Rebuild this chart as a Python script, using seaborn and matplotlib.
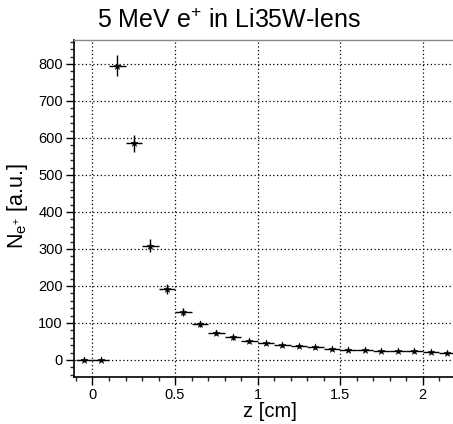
import numpy as np
import pandas as pd
import seaborn as sns
import matplotlib
matplotlib.use("Agg")
import matplotlib.pyplot as plt
from matplotlib.ticker import MultipleLocator, FixedLocator

# data
z = [-0.05, 0.05, 0.15, 0.25, 0.35, 0.45, 0.55, 0.65, 0.75, 0.85, 0.95,
     1.05, 1.15, 1.25, 1.35, 1.45, 1.55, 1.65, 1.75, 1.85, 1.95, 2.05, 2.15]
n = [0, 0, 795, 585, 309, 192, 130, 97, 74, 61, 52,
     45, 40, 39, 34, 30, 28, 27, 25, 24, 23, 21.5, 20]
n_err = [0, 0, 28, 22, 18, 13, 10, 8, 7, 6, 5,
         4.5, 4, 4, 4, 3.5, 3.5, 3.5, 3, 3, 3, 3, 3]
z_halfwidth = 0.05
x_ticks = [0, 0.5, 1, 1.5, 2]
x_ticklabels = ["0", "0.5", "1", "1.5", "2"]
y_ticks = [0, 100, 200, 300, 400, 500, 600, 700, 800]

sns.set_style("ticks")
plt.rcParams['font.family'] = ['Liberation Sans', 'DejaVu Sans']
plt.rcParams['mathtext.fontset'] = 'custom'
plt.rcParams['mathtext.rm'] = 'Liberation Sans'
plt.rcParams['mathtext.it'] = 'Liberation Sans'
plt.rcParams['text.color'] = 'black'

df = pd.DataFrame({"z": z, "n": n})

fig = plt.figure(figsize=(4.53, 4.24), dpi=100)
ax = fig.add_axes([74/453, 47/424, 1 - 74/453, (377-39.5)/424])

ax.errorbar(z, n, yerr=n_err, xerr=z_halfwidth, fmt='none', ecolor='black',
            elinewidth=1.0, capsize=0, zorder=3)
sns.scatterplot(data=df, x="z", y="n", marker='*', s=28, color='black',
                edgecolor='black', linewidth=0.3, ax=ax, zorder=4, legend=False)

ax.set_xlim(-0.112, 2.184)
ax.set_ylim(-46, 866)
ax.xaxis.set_major_locator(FixedLocator(x_ticks))
ax.set_xticklabels(x_ticklabels)
ax.xaxis.set_minor_locator(MultipleLocator(0.1))
ax.yaxis.set_major_locator(FixedLocator(y_ticks))
ax.yaxis.set_minor_locator(MultipleLocator(20))

ax.grid(True, which='major', color='black', linestyle=(0, (1, 2)), linewidth=0.9)
ax.set_axisbelow(True)
ax.tick_params(axis='both', which='major', direction='out', length=6, width=1,
               labelsize=10.5, colors='black', labelcolor='black', pad=2)
ax.tick_params(axis='both', which='minor', direction='out', length=3, width=1)
ax.spines['right'].set_visible(False)
ax.spines['top'].set_color('#888888')
ax.spines['top'].set_linewidth(1)
for s in ['left', 'bottom']:
    ax.spines[s].set_linewidth(1.2)
    ax.spines[s].set_color('black')

ax.set_xlabel("")
ax.set_ylabel("")
fig.text(270/453, 1 - 417/424, "z [cm]", fontsize=14.5, ha='center', va='baseline')
fig.text(17/453, 1 - 206/424, r"N$_{\mathregular{e^{+}}}$ [a.u.]", fontsize=15.5,
         rotation=90, ha='center', va='center')
fig.text(229/453, 1 - 28/424, r"5 MeV e$^{+}$ in Li35W-lens", fontsize=18,
         ha='center', va='baseline')

fig.savefig("out.png", dpi=100)
